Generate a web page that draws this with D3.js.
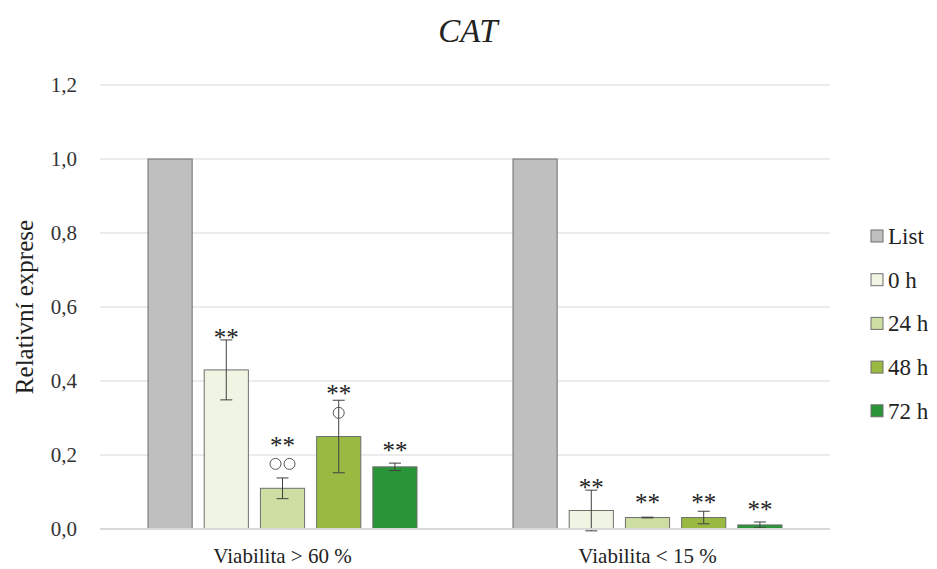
<!DOCTYPE html>
<html><head><meta charset="utf-8">
<script src="https://cdn.jsdelivr.net/npm/d3@7"></script>
<style>body{margin:0;background:#fff;font-family:"Liberation Serif","Times New Roman",Tinos}svg{display:block}svg text{font-family:"Liberation Serif","Times New Roman",Tinos !important}</style>
</head><body><svg id="c" width="937" height="569" style="font-family:'Liberation Serif'"></svg>
<script>
const groups = ["Viabilita > 60 %", "Viabilita < 15 %"];
const seriesNames = ["List", "0 h", "24 h", "48 h", "72 h"];
const colors = ["#bfbfbf", "#eff4e3", "#cedea3", "#99b943", "#2a9438"];
const values = [[1.0, 0.43, 0.11, 0.25, 0.168], [1.0, 0.05, 0.031, 0.031, 0.011]];
const errors = [[0, 0.081, 0.028, 0.098, 0.01], [0, 0.055, 0.001, 0.017, 0.008]];
const stars = [["", "**", "**", "**", "**"], ["", "**", "**", "**", "**"]];
const starY = [[0, 0.532, 0.241, 0.381, 0.227], [0, 0.127, 0.086, 0.086, 0.068]];
const circleCount = [[0, 0, 2, 1, 0], [0, 0, 0, 0, 0]];
const circleY = [[0, 0, 0.176, 0.314, 0], [0, 0, 0, 0, 0]];
const yTicks = [0, 0.2, 0.4, 0.6, 0.8, 1.0, 1.2];

const FONT = '"Times New Roman"';
const svg = d3.select("#c");
const L = 100, R = 830, T = 85, B = 529;
const y = d3.scaleLinear().domain([0, 1.2]).range([B, T]);
const x0 = d3.scaleBand().domain(groups).range([L, R]).paddingInner(0).paddingOuter(0);
const inner = d3.scaleBand().domain(seriesNames).range([48, x0.bandwidth() - 48]).paddingInner(12/56).paddingOuter(0);

svg.append("g").selectAll("line").data(yTicks.filter(d => d > 0)).join("line")
  .attr("x1", L).attr("x2", R).attr("y1", d => y(d)).attr("y2", d => y(d))
  .attr("stroke", "#d9d9d9").attr("stroke-width", 1);
const fmt = d => d3.format(".1f")(d).replace(".", ",");
svg.append("g").selectAll("text").data(yTicks).join("text")
  .attr("x", 77).attr("y", d => y(d)).attr("dy", "0.35em").attr("text-anchor", "end")
  .style("font-family", FONT).attr("font-size", 21).attr("fill", "#333").text(fmt);

const g = svg.append("g").selectAll("g").data(groups).join("g")
  .attr("transform", d => `translate(${x0(d)},0)`);
g.each(function(gname, gi) {
  const sel = d3.select(this);
  seriesNames.forEach((s, si) => {
    const v = values[gi][si], e = errors[gi][si];
    const bx = inner(s), bw = inner.bandwidth(), cx = bx + bw / 2;
    sel.append("rect").attr("x", bx).attr("y", y(v)).attr("width", bw).attr("height", y(0) - y(v))
      .attr("fill", colors[si]).attr("stroke", "#6f6f6f").attr("stroke-width", 1);
    if (e > 0) {
      const eg = sel.append("g").attr("stroke", "#404040").attr("stroke-width", 1);
      eg.append("line").attr("x1", cx).attr("x2", cx).attr("y1", y(v + e)).attr("y2", y(v - e));
      [v + e, v - e].forEach(t => eg.append("line").attr("x1", cx - 6).attr("x2", cx + 6).attr("y1", y(t)).attr("y2", y(t)));
    }
    if (stars[gi][si]) {
      sel.append("text").attr("x", cx).attr("y", y(starY[gi][si])).attr("dy", "0.55em")
        .attr("text-anchor", "middle").style("font-family", FONT).attr("font-size", 25)
        .attr("fill", "#222").text(stars[gi][si]);
    }
    const n = circleCount[gi][si];
    for (let k = 0; k < n; k++) {
      const off = n === 1 ? 0 : (k - (n - 1) / 2) * 14;
      sel.append("circle").attr("cx", cx + off).attr("cy", y(circleY[gi][si])).attr("r", 5.5)
        .attr("fill", "none").attr("stroke", "#555").attr("stroke-width", 1);
    }
  });
});
svg.append("line").attr("x1", L).attr("x2", R).attr("y1", y(0)).attr("y2", y(0))
  .attr("stroke", "#d9d9d9").attr("stroke-width", 2);

svg.append("g").selectAll("text").data(groups).join("text")
  .attr("x", d => x0(d) + x0.bandwidth() / 2).attr("y", 563).attr("text-anchor", "middle")
  .style("font-family", FONT).attr("font-size", 21).attr("fill", "#222").text(d => d);

svg.append("text").attr("x", 468).attr("y", 42).attr("text-anchor", "middle")
  .style("font-family", FONT).attr("font-size", 33).attr("font-style", "italic").attr("fill", "#222").text("CAT");
svg.append("text").attr("transform", `translate(33,${(T + B) / 2}) rotate(-90)`).attr("text-anchor", "middle")
  .style("font-family", FONT).attr("font-size", 25).attr("fill", "#222").text("Relativní exprese");

const leg = svg.append("g").selectAll("g").data(seriesNames).join("g")
  .attr("transform", (d, i) => `translate(871,${236 + i * 43.7})`);
leg.append("rect").attr("x", 0).attr("y", -6).attr("width", 12).attr("height", 12)
  .attr("fill", (d, i) => colors[i]).attr("stroke", "#6f6f6f");
leg.append("text").attr("x", 17).attr("y", 0).attr("dy", "0.35em").style("font-family", FONT).attr("font-size", 23)
  .attr("fill", "#222").text(d => d);
</script></body></html>
